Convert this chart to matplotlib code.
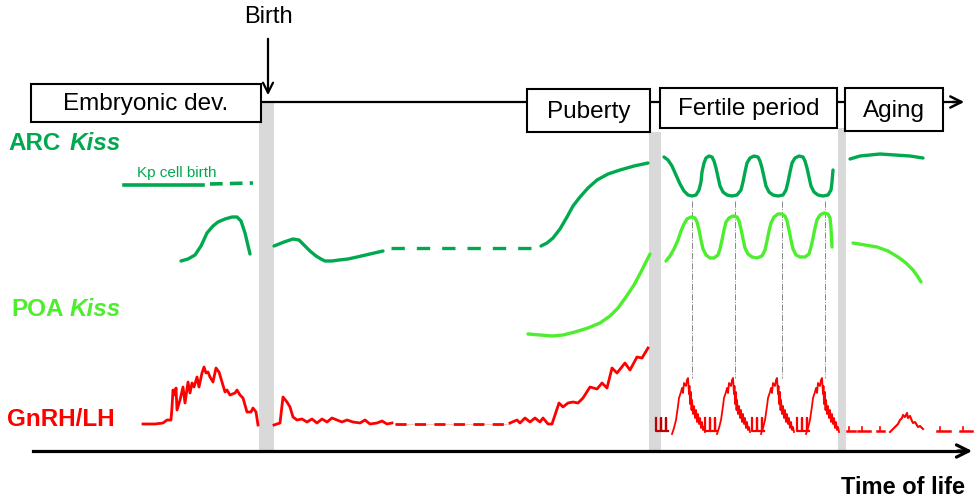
import matplotlib.pyplot as plt
from matplotlib.patches import Rectangle

plt.rcParams['font.family'] = ['Liberation Sans', 'DejaVu Sans']

ARC = '#00A94F'
POA = '#4DEE2E'
RED = '#FF0000'
DRED = '#C00000'
GRAY = '#D9D9D9'

# stage boxes: label, left, top, width, height
stages = ['Embryonic dev.', 'Puberty', 'Fertile period', 'Aging']
stage_x = [31, 527, 660, 845]
stage_y = [84, 89, 88, 88]
stage_w = [230, 123, 177, 98]
stage_h = [38, 43, 40, 43]

# transition bars (left, right, top)
bar_x0 = [259, 649, 838]
bar_x1 = [274, 661, 846]
bar_top = [102, 132, 128]

# ARC Kiss
arc_emb_x = [181, 188, 195, 201, 207, 213, 218, 225, 232, 237, 241, 245, 250]
arc_emb_y = [261, 259, 255, 246, 233, 226, 222, 219, 217, 217, 221, 233, 254]
arc_post_x = [274, 284, 293, 299, 304, 310, 316, 321, 325, 332, 339, 348, 357, 370, 383]
arc_post_y = [246, 242, 239, 240, 245, 251, 256, 259, 261, 261, 260, 259, 257, 254, 251]
arc_dash_x = [391, 541]
arc_dash_y = [248, 248]
arc_rise_x = [541, 547, 553, 560, 567, 573, 580, 588, 597, 608, 620, 634, 648]
arc_rise_y = [246, 243, 238, 229, 217, 206, 197, 188, 180, 174, 170, 166, 163]
arc_fert_x = [664, 668, 672, 676, 680, 684, 688, 692, 696, 699, 701, 702, 704, 706, 709,
              712, 714, 716, 718, 720, 723, 727, 732, 737, 741, 743, 745, 747, 750, 754,
              758, 760, 762, 764, 766, 769, 773, 778, 783, 786, 788, 790, 792, 795, 799,
              803, 805, 807, 809, 811, 814, 818, 823, 828, 831, 832, 833]
arc_fert_y = [157, 160, 166, 175, 184, 191, 195, 196, 195, 190, 182, 172, 163, 158, 156,
              157, 161, 168, 177, 186, 192, 195, 196, 195, 190, 182, 172, 163, 158, 156,
              157, 161, 168, 177, 186, 192, 195, 196, 195, 190, 182, 172, 163, 158, 156,
              157, 161, 168, 177, 186, 192, 195, 196, 195, 190, 182, 170]
arc_age_x = [850, 860, 870, 880, 895, 910, 923]
arc_age_y = [159, 156, 155, 154, 155, 156, 158]
kp_x = [124, 203]
kp_y = [185, 185]
kp_dash_x = [210, 253]
kp_dash_y = [184, 183]

# POA Kiss
poa_pub_x = [528, 540, 552, 563, 575, 588, 600, 610, 618, 626, 634, 642, 650]
poa_pub_y = [334, 335, 336, 335, 332, 328, 323, 316, 308, 297, 285, 270, 254]
poa_fert_x = [666, 670, 674, 678, 681, 684, 687, 691, 695, 697, 699, 701, 703, 706, 710,
              714, 718, 720, 722, 724, 726, 729, 733, 737, 739, 741, 743, 745, 748, 752,
              757, 762, 765, 767, 769, 771, 774, 778, 782, 785, 787, 789, 791, 793, 796,
              800, 805, 809, 811, 813, 815, 817, 820, 824, 828, 830, 831, 832]
poa_fert_y = [261, 256, 249, 240, 231, 224, 219, 217, 218, 222, 230, 240, 249, 255, 258,
              258, 255, 249, 240, 230, 222, 218, 216, 217, 221, 229, 239, 248, 254, 257,
              258, 256, 250, 241, 231, 223, 217, 214, 214, 216, 221, 230, 240, 249, 255,
              257, 257, 254, 247, 238, 228, 220, 215, 213, 214, 218, 228, 247]
poa_age_x = [853, 865, 877, 888, 898, 906, 913, 918, 921]
poa_age_y = [243, 245, 247, 251, 257, 263, 270, 277, 282]

# GnRH/LH
red_emb_x = [143, 155, 163, 167, 171, 172, 173, 175, 176, 177, 180, 183, 185, 188, 190, 192,
             194, 197, 199, 202, 204, 206, 208, 210, 213, 216, 219, 222, 225, 227, 230, 235,
             237, 240, 243, 247, 251, 253, 256, 258]
red_emb_y = [424, 424, 423, 420, 420, 407, 390, 395, 388, 410, 400, 387, 403, 382, 393, 383,
             387, 377, 387, 373, 367, 373, 372, 377, 382, 368, 372, 382, 392, 390, 395, 393,
             390, 395, 398, 412, 412, 408, 412, 425]
red_post_x = [274, 280, 283, 287, 290, 293, 297, 302, 307, 312, 317, 322, 327, 332, 337, 342,
              347, 353, 360, 365, 370, 377, 382, 387, 392]
red_post_y = [425, 423, 397, 402, 407, 417, 420, 419, 422, 419, 423, 419, 422, 418, 420, 422,
              420, 422, 423, 420, 424, 423, 421, 424, 423]
red_dash_x = [395, 510]
red_dash_y = [424, 424]
red_pub_x = [510, 517, 520, 525, 530, 535, 540, 543, 548, 552, 559, 563, 568, 573, 578, 583,
             590, 597, 602, 607, 612, 617, 625, 630, 637, 642, 648]
red_pub_y = [423, 420, 423, 418, 422, 418, 422, 418, 424, 424, 403, 407, 403, 402, 403, 398,
             387, 389, 383, 388, 368, 373, 363, 370, 357, 358, 348]
# one LH surge, offsets from its centre
pulse_dx = [-16, -14, -12, -10, -9, -7, -6, -5, -4, -2, -1, 0, 1, 1.5, 2, 3, 3.5, 4, 5, 6,
            7, 8, 9, 10, 11, 12, 13, 14, 15, 16, 17]
pulse_y = [434, 428, 420, 406, 398, 392, 388, 393, 383, 386, 380, 378, 394, 386, 404, 392,
           410, 400, 414, 406, 418, 410, 422, 414, 424, 418, 428, 422, 430, 427, 432]
pulse_centres = [688, 733, 777, 822]
notch_dx = [0, 0, 5, 5, 5, 10, 10, 10, 12]
notch_y = [418, 431, 431, 418, 431, 431, 418, 431, 431]
notch_x0 = [656, 705, 752, 797]
age_seg_x0 = [847, 858, 877, 937, 960]
age_seg_x1 = [855, 870, 884, 950, 972]
age_tick_x = [849, 862, 880, 940, 963]
red_age_x = [890, 895, 898, 900, 902, 903, 905, 907, 908, 910, 912, 913, 915, 918, 920, 923]
red_age_y = [432, 427, 424, 420, 418, 415, 417, 413, 418, 416, 421, 423, 422, 427, 426, 429]

fig = plt.figure(figsize=(9.78, 5.03), dpi=100)
ax = fig.add_axes([0, 0, 1, 1])
ax.set_xlim(0, 978)
ax.set_ylim(503, 0)
ax.axis('off')

for a, b, t in zip(bar_x0, bar_x1, bar_top):
    ax.add_patch(Rectangle((a, t), b - a, 452 - t, color=GRAY, lw=0, zorder=0))

# time line and axis
ax.plot([261, 955], [102, 102], color='black', lw=1.6, zorder=1)
ax.annotate('', xy=(967, 102), xytext=(950, 102),
            arrowprops=dict(arrowstyle='->', lw=1.8, color='black', mutation_scale=20))
ax.plot([33, 960], [451, 451], color='black', lw=2.3, zorder=1)
ax.annotate('', xy=(975, 451), xytext=(955, 451),
            arrowprops=dict(arrowstyle='->', lw=2.3, color='black', mutation_scale=22))
ax.annotate('', xy=(268, 98), xytext=(268, 36),
            arrowprops=dict(arrowstyle='->', lw=1.6, color='black', mutation_scale=18))
ax.text(268, 17, 'Birth', ha='center', va='center', fontsize=17)
ax.text(965, 487, 'Time of life', ha='right', va='center', fontsize=17, fontweight='bold')

for s, x, y, w, h in zip(stages, stage_x, stage_y, stage_w, stage_h):
    ax.add_patch(Rectangle((x, y), w, h, facecolor='white', edgecolor='black', lw=1.5, zorder=3))
    ax.text(x + w / 2, y + h / 2 + 1, s, ha='center', va='center', fontsize=17.5, zorder=4)

# row labels
ax.text(8, 143, 'ARC', color=ARC, fontsize=17.5, fontweight='bold', va='center')
ax.text(70, 143, 'Kiss', color=ARC, fontsize=17.5, fontweight='bold', style='italic', va='center')
ax.text(11, 310, 'POA', color=POA, fontsize=17.5, fontweight='bold', va='center')
ax.text(70, 310, 'Kiss', color=POA, fontsize=17.5, fontweight='bold', style='italic', va='center')
ax.text(7, 420, 'GnRH/LH', color=RED, fontsize=17.5, fontweight='bold', va='center')
ax.text(137, 173, 'Kp cell birth', color=ARC, fontsize=11, va='center')

gl = dict(lw=2.4, solid_capstyle='round', solid_joinstyle='round', zorder=2)
ax.plot(kp_x, kp_y, color=ARC, lw=2.6, zorder=2)
ax.plot(kp_dash_x, kp_dash_y, color=ARC, lw=2.6, dashes=(3.5, 2), zorder=2)
ax.plot(arc_emb_x, arc_emb_y, color=ARC, **gl)
ax.plot(arc_post_x, arc_post_y, color=ARC, **gl)
ax.plot(arc_dash_x, arc_dash_y, color=ARC, lw=2.4, dashes=(4, 3.6), zorder=2)
ax.plot(arc_rise_x, arc_rise_y, color=ARC, **gl)
ax.plot(arc_fert_x, arc_fert_y, color=ARC, **gl)
ax.plot(arc_age_x, arc_age_y, color=ARC, **gl)

ax.plot(poa_pub_x, poa_pub_y, color=POA, **gl)
ax.plot(poa_fert_x, poa_fert_y, color=POA, **gl)
ax.plot(poa_age_x, poa_age_y, color=POA, **gl)

for c in [692, 735, 782, 825]:
    ax.plot([c, c], [201, 378], color='#888888', lw=0.7, ls='-.', zorder=1)

rl = dict(lw=2.0, solid_joinstyle='round', zorder=2)
ax.plot(red_emb_x, red_emb_y, color=RED, **rl)
ax.plot(red_post_x, red_post_y, color=RED, **rl)
ax.plot(red_dash_x, red_dash_y, color='#FFC8C8', lw=0.8, zorder=1)
ax.plot(red_dash_x, red_dash_y, color=RED, lw=2.0, dashes=(4, 3), zorder=2)
ax.plot(red_pub_x, red_pub_y, color=RED, **rl)
for c in pulse_centres:
    ax.plot([c + d for d in pulse_dx], pulse_y, color=RED, lw=1.3, zorder=2)
for i, x0 in enumerate(notch_x0):
    ax.plot([x0 + d for d in notch_dx], notch_y, color=DRED if i == 0 else RED, lw=1.6, zorder=2)
for a, b, t in zip(age_seg_x0, age_seg_x1, age_tick_x):
    ax.plot([a, b], [431, 431], color=RED, lw=1.8, zorder=2)
    ax.plot([t, t], [427, 431], color=RED, lw=1.2, zorder=2)
ax.plot(red_age_x, red_age_y, color=RED, lw=1.5, zorder=2)

fig.savefig('out.png', dpi=100)
